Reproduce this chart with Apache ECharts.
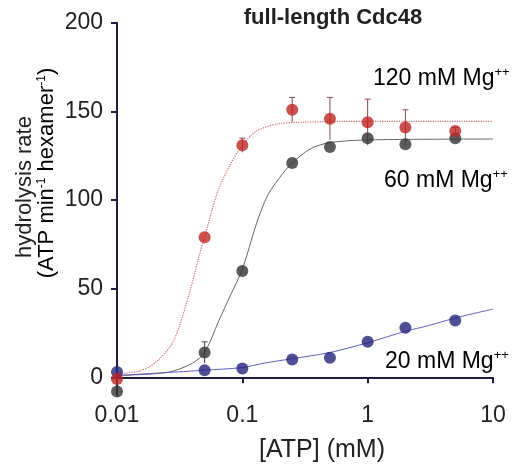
<!DOCTYPE html>
<html>
<head>
<meta charset="utf-8">
<script src="https://cdn.jsdelivr.net/npm/echarts@6/dist/echarts.min.js"></script>
<style>
  html, body { margin: 0; padding: 0; background: #fff; }
  #main { width: 522px; height: 466px; }
</style>
</head>
<body>
<div id="main"></div>
<script>
// measured points, [ATP] in mM
const atp = [0.01, 0.05, 0.1, 0.25, 0.5, 1, 2, 5];
const rate120 = [-1, 79, 131, 151, 146, 144, 141, 139];
const rate60 = [-8, 14, 60, 121, 130, 135, 131.5, 135];
const rate20 = [3, 4, 5, 10, 11, 20, 28, 32];

// error bars [x, low, high]
const err120 = [[0.1, 127, 135], [0.25, 144, 158], [0.5, 134, 158], [1, 131, 157], [2, 131, 151], [5, 137, 141]];
const err60 = [[0.05, 8, 20]];

// fitted curves
const fit120X = [0.01, 0.015, 0.02, 0.028, 0.038, 0.045, 0.05, 0.063, 0.08, 0.1, 0.13, 0.19, 0.3, 1, 10];
const fit120Y = [2, 3.5, 8, 20, 48, 68, 79, 104, 120, 131, 139, 143, 144, 144.5, 144.5];
const fit60X = [0.01, 0.02, 0.028, 0.04, 0.05, 0.065, 0.08, 0.1, 0.13, 0.16, 0.21, 0.25, 0.35, 0.5, 1, 10];
const fit60Y = [1, 2, 3.5, 8, 14, 32, 46, 61, 87, 103, 115, 121, 129, 132.5, 134, 134.5];
const fit20X = [0.01, 0.03, 0.05, 0.1, 0.15, 0.25, 0.5, 1, 2, 3, 5, 10];
const fit20Y = [1, 3, 4, 5.5, 8, 10.5, 14, 19.5, 26, 29, 33.5, 38.5];

const yTicks = [0, 50, 100, 150, 200];

const zip = (xs, ys) => xs.map((x, i) => [x, ys[i]]);

const chart = echarts.init(document.getElementById('main'));

function errBar(color) {
    return function (params, api) {
        const x = api.value(0);
        const lo = api.coord([x, api.value(1)]);
        const hi = api.coord([x, api.value(2)]);
        const st = { stroke: color, lineWidth: 1 };
        return {
            type: 'group',
            children: [
                { type: 'line', shape: { x1: lo[0], y1: lo[1], x2: hi[0], y2: hi[1] }, style: st },
                { type: 'line', shape: { x1: hi[0] - 3, y1: hi[1], x2: hi[0] + 3, y2: hi[1] }, style: st }
            ]
        };
    };
}

const labelFont = 'Liberation Sans, Arial, sans-serif';
const supRich = (color, size, lh) => ({
    n: { fontSize: size, color: color, fontFamily: labelFont, lineHeight: lh, verticalAlign: 'bottom' },
    s: { fontSize: Math.round(size * 0.55), color: color, fontFamily: labelFont, lineHeight: lh, verticalAlign: 'top' }
});

const option = {
    backgroundColor: '#fff',
    animation: false,
    grid: { left: 117, right: 29, top: 23, bottom: 71 },
    xAxis: {
        type: 'log',
        logBase: 10,
        min: 0.01,
        max: 10,
        axisLine: { lineStyle: { color: '#1e1e3c', width: 2 } },
        axisTick: { show: true, length: 6, lineStyle: { color: '#1e1e3c', width: 2 } },
        minorTick: { show: false },
        splitLine: { show: false },
        axisLabel: {
            margin: 9,
            fontSize: 23,
            color: '#222',
            fontFamily: labelFont,
            formatter: v => String(+v.toPrecision(3))
        }
    },
    yAxis: {
        type: 'value',
        min: -10,
        max: 200,
        axisLine: { show: true, lineStyle: { color: '#1e1e3c', width: 2 } },
        axisTick: { show: true, length: 6, customValues: yTicks, lineStyle: { color: '#1e1e3c', width: 2 } },
        splitLine: { show: false },
        axisLabel: {
            margin: 14,
            fontSize: 23,
            color: '#222',
            fontFamily: labelFont,
            customValues: yTicks
        }
    },
    series: [
        {
            type: 'line', data: zip(fit60X, fit60Y), showSymbol: false, smooth: 0.3,
            lineStyle: { color: '#666', width: 1 }, silent: true, z: 1
        },
        {
            type: 'line', data: zip(fit20X, fit20Y), showSymbol: false, smooth: 0.3,
            lineStyle: { color: '#6060c0', width: 1 }, silent: true, z: 1
        },
        {
            type: 'line', data: zip(fit120X, fit120Y), showSymbol: false, smooth: 0.3,
            lineStyle: { color: '#d86a6a', width: 1.2, type: 'dotted' }, silent: true, z: 1
        },
        { type: 'custom', data: err60, renderItem: errBar('#444'), z: 2 },
        { type: 'custom', data: err120, renderItem: errBar('#8a4a4a'), z: 2 },
        {
            type: 'scatter', data: zip(atp, rate60), symbolSize: 12, clip: false,
            itemStyle: { color: '#333333' }, z: 3
        },
        {
            type: 'scatter', data: zip(atp, rate20), symbolSize: 12, clip: false,
            itemStyle: { color: '#23237a' }, z: 4
        },
        {
            type: 'scatter', data: zip(atp, rate120), symbolSize: 12, clip: false,
            itemStyle: { color: '#bf2424' }, z: 5
        }
    ],
    graphic: [
        {
            type: 'text', x: 333, y: 18,
            style: {
                text: 'full-length Cdc48', fontSize: 22, fontWeight: 'bold', fontFamily: labelFont,
                fill: '#222', align: 'center', verticalAlign: 'middle'
            }
        },
        {
            type: 'text', x: 373, y: 78,
            style: {
                text: '{n|120 mM Mg}{s|++}', rich: supRich('#c8474d', 23, 25),
                align: 'left', verticalAlign: 'middle'
            }
        },
        {
            type: 'text', x: 384, y: 180,
            style: {
                text: '{n|60 mM Mg}{s|++}', rich: supRich('#555555', 23, 25),
                align: 'left', verticalAlign: 'middle'
            }
        },
        {
            type: 'text', x: 385, y: 361,
            style: {
                text: '{n|20 mM Mg}{s|++}', rich: supRich('#5252aa', 23, 25),
                align: 'left', verticalAlign: 'middle'
            }
        },
        {
            type: 'text', x: 322, y: 450,
            style: {
                text: '[ATP] (mM)', fontSize: 25, fontFamily: labelFont, fill: '#222',
                align: 'center', verticalAlign: 'middle'
            }
        },
        {
            type: 'text', x: 25, y: 187, rotation: Math.PI / 2,
            style: {
                text: 'hydrolysis rate', fontSize: 22, fontFamily: labelFont, fill: '#222',
                align: 'center', verticalAlign: 'middle'
            }
        },
        {
            type: 'text', x: 47, y: 173, rotation: Math.PI / 2,
            style: {
                text: '{n|(ATP min}{s|-1}{n| hexamer}{s|-1}{n|)}', rich: supRich('#222', 22, 22),
                align: 'center', verticalAlign: 'middle'
            }
        }
    ]
};

chart.setOption(option);
</script>
</body>
</html>
